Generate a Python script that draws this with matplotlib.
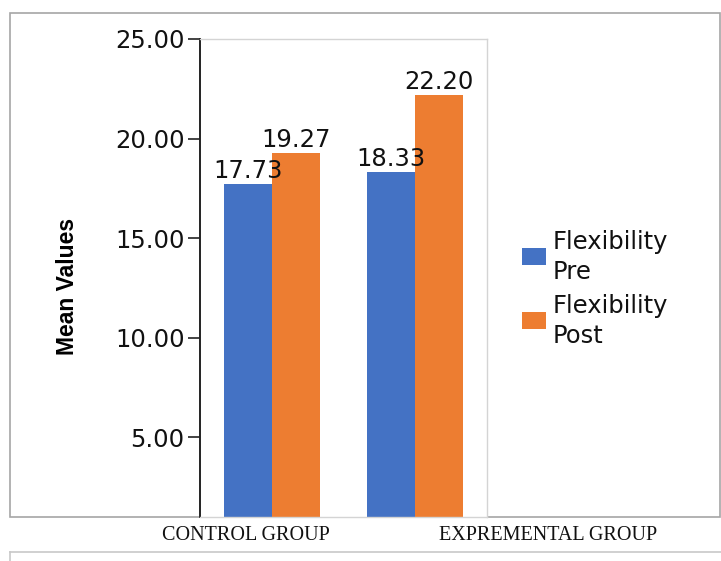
import matplotlib
matplotlib.use("Agg")
import matplotlib.pyplot as plt
from matplotlib import font_manager
from matplotlib.patches import Rectangle
from matplotlib.lines import Line2D

# Data
groups = ["CONTROL GROUP", "EXPREMENTAL GROUP"]
series_names = ["Flexibility\nPre", "Flexibility\nPost"]
pre_values = [17.73, 18.33]
post_values = [19.27, 22.20]
series_colors = ["#4472C4", "#ED7D31"]
y_ticks = [5, 10, 15, 20, 25]

W, H = 721, 561
fig = plt.figure(figsize=(W / 100, H / 100), dpi=100)


def fx(px):
    return px / W


def fy(py):
    return 1 - py / H


# Outer chart frame and the strip below it
fig.add_artist(Rectangle((fx(10), fy(517)), fx(720) - fx(10), fy(13) - fy(517),
                         transform=fig.transFigure, fill=False,
                         edgecolor="#a6a6a6", lw=1.2, zorder=0))
fig.add_artist(Line2D([fx(10), fx(721)], [fy(552), fy(552)],
                      transform=fig.transFigure, color="#c8c8c8", lw=1.2))
fig.add_artist(Line2D([fx(10), fx(10)], [fy(552), 0],
                      transform=fig.transFigure, color="#c8c8c8", lw=1.2))

ax = fig.add_axes([fx(200), fy(517), fx(487) - fx(200), fy(39) - fy(517)])

x = [0, 1]
bw = 0.334
all_series = [pre_values, post_values]
for i, (vals, col) in enumerate(zip(all_series, series_colors)):
    offs = (i - 0.5) * bw
    xs = [xi + offs for xi in x]
    ax.bar(xs, vals, width=bw, color=col, zorder=2)
    for xi, v in zip(xs, vals):
        ax.annotate(f"{v:.2f}", (xi, v), xytext=(0, 4.5), textcoords="offset points",
                    ha="center", va="baseline", fontsize=17.5, color="#111111",
                    zorder=3)

ax.set_xlim(-0.5, 1.5)
ax.set_ylim(1, 25)
ax.set_yticks(y_ticks)
ax.set_yticklabels([f"{t:.2f}" for t in y_ticks], fontsize=17.5, color="#111111")
ax.set_xticks([])
ax.tick_params(axis="y", length=9, width=1.2, pad=2, color="#222222")
for side in ("top", "right", "bottom"):
    ax.spines[side].set_color("#d4d4d4")
    ax.spines[side].set_linewidth(1.0)
ax.spines["left"].set_color("#222222")
ax.spines["left"].set_linewidth(1.4)

# Category labels
for cx, name in zip([246, 548], groups):
    fig.text(fx(cx), fy(536), name, ha="center", va="center",
             family="Liberation Serif", fontsize=14.5, color="#111111")

# Y-axis title
names = {f.name for f in font_manager.fontManager.ttflist}
if "Liberation Sans Narrow" in names:
    fig.text(fx(68), fy(286), "Mean Values", rotation=90, ha="center", va="center",
             family="Liberation Sans Narrow", fontweight="bold", fontsize=20)
else:
    fig.text(fx(68), fy(286), "Mean Values", rotation=90, ha="center", va="center",
             family="Liberation Sans", fontweight="bold", fontsize=16.5)

# Legend
for cy, name, col in zip([256, 320], series_names, series_colors):
    fig.add_artist(Rectangle((fx(522), fy(cy + 8.5)), fx(546) - fx(522), 17 / H,
                             transform=fig.transFigure, facecolor=col,
                             edgecolor="none"))
    fig.text(fx(553), fy(cy + 1), name, ha="left", va="center", fontsize=17.5,
             linespacing=1.35, color="#111111")

fig.savefig("out.png", dpi=100, facecolor="white")
